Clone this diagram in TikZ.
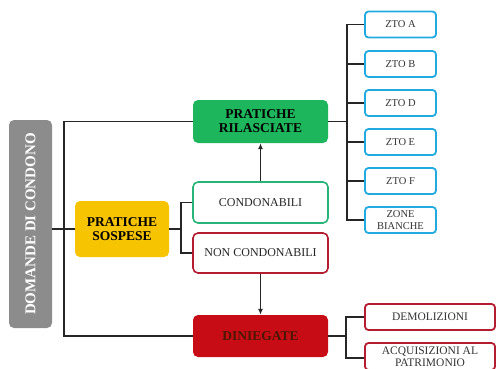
\documentclass[tikz,border=0pt]{standalone}
\usepackage{fontspec}
\setmainfont{Liberation Serif}
\usepackage{xcolor}
\usetikzlibrary{arrows.meta,positioning}

\definecolor{domgray}{RGB}{140,140,140}
\definecolor{rilgreen}{RGB}{30,182,92}
\definecolor{sosyellow}{RGB}{246,196,0}
\definecolor{dinred}{RGB}{200,12,22}
\definecolor{dintext}{RGB}{75,22,0}
\definecolor{ztocyan}{RGB}{32,170,224}
\definecolor{condgreen}{RGB}{40,180,120}
\definecolor{ncondred}{RGB}{180,28,48}

\begin{document}
\begin{tikzpicture}[
  x=1pt, y=-1pt,
  box/.style    ={rounded corners=5pt, align=center, inner sep=2pt,
                  minimum width=135pt},
  head/.style   ={box, font=\fontsize{13.5}{14}\selectfont\bfseries},
  sub/.style    ={box, draw, line width=1.6pt, fill=white,
                  font=\fontsize{12}{13}\selectfont, text=black!85},
  zto/.style    ={draw=ztocyan, line width=1.8pt, fill=white, rounded corners=3.5pt,
                  minimum width=71pt, minimum height=26pt, inner sep=1pt, align=center,
                  font=\fontsize{10.5}{12}\selectfont, text=black!80},
  esito/.style  ={zto, draw=ncondred, minimum width=130pt,
                  font=\fontsize{11.5}{11.7}\selectfont},
  ln/.style     ={line width=1.5pt, black!85},
  ar/.style     ={ln, -{Latex[length=6pt,width=5pt]}}
]
\useasboundingbox (0,0) rectangle (497,368);

\node[fill=domgray, rounded corners=5pt, rotate=90, minimum width=208pt,
      minimum height=43pt, text=white, font=\fontsize{15}{16}\selectfont\bfseries]
  (dom) at (30.5,224) {DOMANDE DI CONDONO};

\node[head, fill=rilgreen, minimum height=43pt] (ril) at (260.5,121.5)
  {PRATICHE\\RILASCIATE};
\node[head, fill=sosyellow, minimum width=94pt, minimum height=56pt] (sos) at (122,229)
  {PRATICHE\\SOSPESE};
\node[sub, draw=condgreen, minimum height=41pt] (cond) at (260.5,202.5) {CONDONABILI};
\node[sub, draw=ncondred, minimum height=40pt] (ncond) at (260.5,253) {NON CONDONABILI};
\node[head, fill=dinred, text=dintext, minimum height=42pt] (din) at (260.5,336)
  {DINIEGATE};

% zone territoriali
\node[zto] (ztoa) at (400.5,24.5) {ZTO A};
\node[zto] (ztob) at (400.5,64)   {ZTO B};
\node[zto] (ztod) at (400.5,103)  {ZTO D};
\node[zto] (ztoe) at (400.5,142)  {ZTO E};
\node[zto] (ztof) at (400.5,181)  {ZTO F};
\node[zto, font=\fontsize{10.5}{12.5}\selectfont] (zone) at (400.5,220)
  {ZONE\\BIANCHE};

% esiti dei dinieghi
\node[esito] (dem) at (430,317)   {DEMOLIZIONI};
\node[esito, minimum height=27pt] (acq) at (430,356.5)
  {ACQUISIZIONI AL\\PATRIMONIO};

\coordinate (lb) at (64,229);
\coordinate (sb) at (181,229);
\coordinate (zb) at (347,121.5);
\coordinate (db) at (346,336);

\draw[ln] (dom.south |- sos.west) -- (sos.west);
\draw[ln] (ril.west) -| (lb) |- (din.west);
\draw[ln] (sos.east) -- (sb);
\draw[ln] (cond.west) -| (sb) |- (ncond.west);
\draw[ar] (cond.north) -- (ril.south);
\draw[ar] (ncond.south) -- (din.north);

\draw[ln] (ril.east) -- (zb);
\draw[ln] (ztoa.west) -| (zb) |- (zone.west);
\draw[ln] (zb |- ztob.west) -- (ztob.west);
\draw[ln] (zb |- ztod.west) -- (ztod.west);
\draw[ln] (zb |- ztoe.west) -- (ztoe.west);
\draw[ln] (zb |- ztof.west) -- (ztof.west);

\draw[ln] (din.east) -- (db);
\draw[ln] (dem.west) -| (db) |- ([yshift=-1.5pt]acq.west);

\end{tikzpicture}
\end{document}
